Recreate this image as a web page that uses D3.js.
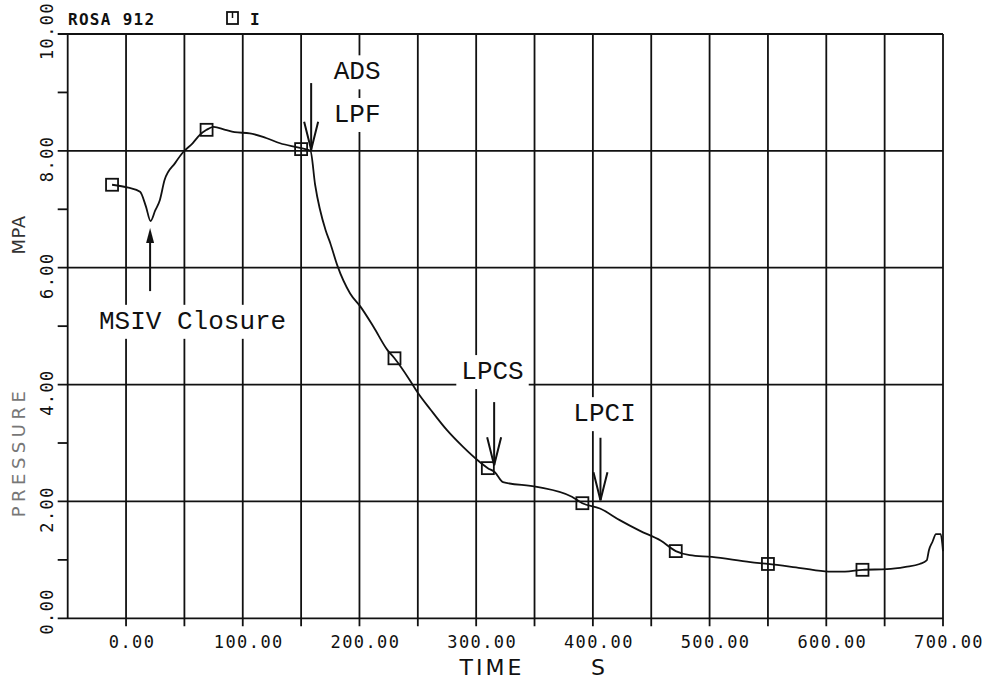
<!DOCTYPE html>
<html>
<head>
<meta charset="utf-8">
<script src="https://cdn.jsdelivr.net/npm/d3@7"></script>
<style>
  body { margin: 0; background: #fff; }
  svg { display: block; }
</style>
</head>
<body>
<svg width="994" height="684"></svg>
<script>
// ROSA run 912 - pressure history
const times = [-12, 2, 12, 17, 21, 25, 29, 33, 42, 49, 57, 63, 69, 75, 85, 93, 106, 120, 132, 149,
  158, 162, 171, 175, 181, 192, 201, 212, 224, 230, 243, 250, 261, 275, 289, 301, 310, 316, 323,
  352, 382, 391, 406, 423, 440, 458, 471, 483, 502, 535, 550, 578, 602, 616, 631, 652, 668, 680,
  686, 688, 691, 694, 698, 700];
const pressures = [7.42, 7.37, 7.30, 7.05, 6.80, 6.98, 7.16, 7.50, 7.79, 7.98, 8.13, 8.27, 8.36, 8.41,
  8.36, 8.32, 8.30, 8.22, 8.13, 8.05, 8.00, 7.42, 6.64, 6.42, 6.04, 5.56, 5.33, 4.99, 4.59, 4.45,
  4.08, 3.86, 3.57, 3.22, 2.93, 2.71, 2.57, 2.50, 2.33, 2.25, 2.08, 1.97, 1.88, 1.68, 1.50, 1.33,
  1.15, 1.08, 1.05, 0.96, 0.93, 0.86, 0.80, 0.80, 0.83, 0.84, 0.88, 0.93, 0.99, 1.17, 1.31, 1.44,
  1.44, 1.15];
const markerTimes = [-12, 69, 150, 230, 310, 391, 471, 550, 631];
const markerPressures = [7.42, 8.36, 8.03, 4.45, 2.57, 1.97, 1.15, 0.93, 0.83];

const xTicks = [0, 100, 200, 300, 400, 500, 600, 700];
const yTicks = [0, 2, 4, 6, 8, 10];

// annotations, in data units (time s, pressure MPa)
const notes = [
  { lines: ['MSIV Closure'], t: 57, p: [5.11], arrowT: 20.6, from: 5.60, to: 6.68, head: 'solid' },
  { lines: ['ADS', 'LPF'], t: 198, p: [9.38, 8.65], arrowT: 158.6, from: 9.16, to: 8.02, head: 'v' },
  { lines: ['LPCS'], t: 314, p: [4.25], arrowT: 315.4, from: 3.70, to: 2.62, head: 'v' },
  { lines: ['LPCI'], t: 410, p: [3.53], arrowT: 406.5, from: 3.09, to: 2.02, head: 'v' }
];

const svg = d3.select('svg');
const x = d3.scaleLinear().domain([-50, 700]).range([67.7, 943]);
const y = d3.scaleLinear().domain([0, 10]).range([618.3, 34]);

const mono = '"DejaVu Sans Mono", monospace';
const ink = '#111';

// grid
const grid = svg.append('g').attr('stroke', ink).attr('stroke-width', 1.8);
grid.selectAll('.vg').data(d3.range(-50, 701, 50)).enter().append('line')
  .attr('x1', d => x(d)).attr('x2', d => x(d))
  .attr('y1', y(10)).attr('y2', d => d === -50 ? y(0) : y(0) + 8);
grid.selectAll('.hg').data(yTicks).enter().append('line')
  .attr('x1', x(-50) - 10).attr('x2', x(700))
  .attr('y1', d => y(d)).attr('y2', d => y(d));
grid.selectAll('.mt').data([1, 3, 5, 7, 9]).enter().append('line')
  .attr('x1', x(-50) - 10).attr('x2', x(-50))
  .attr('y1', d => y(d)).attr('y2', d => y(d));

// tick labels
svg.selectAll('.xl').data(xTicks).enter().append('text')
  .attr('x', d => x(d) + 6).attr('y', 648)
  .attr('text-anchor', 'middle')
  .style('font-family', mono).style('font-size', '17px').style('letter-spacing', '1.4px')
  .attr('fill', ink)
  .text(d => d3.format('.2f')(d));

svg.selectAll('.yl').data(yTicks).enter().append('text')
  .attr('transform', d => {
    const off = d === 0 ? -7 : d === 10 ? -3 : 8;
    return 'translate(53,' + (y(d) + off) + ') rotate(-90)';
  })
  .attr('text-anchor', 'middle')
  .style('font-family', mono).style('font-size', '17px').style('letter-spacing', '1.4px')
  .attr('fill', ink)
  .text(d => d3.format('.2f')(d));

// axis titles
svg.append('text').attr('transform', 'translate(25,452) rotate(-90)')
  .attr('text-anchor', 'middle')
  .style('font-family', '"DejaVu Sans", sans-serif').style('font-size', '18px')
  .style('letter-spacing', '4.5px').attr('fill', '#777')
  .text('PRESSURE');
svg.append('text').attr('transform', 'translate(25,235) rotate(-90)')
  .attr('text-anchor', 'middle')
  .style('font-family', '"DejaVu Sans", sans-serif').style('font-size', '18px')
  .style('letter-spacing', '0.5px').attr('fill', '#333')
  .text('MPA');
svg.append('text').attr('x', 492).attr('y', 675).attr('text-anchor', 'middle')
  .style('font-family', '"DejaVu Sans", sans-serif').style('font-size', '22px')
  .style('letter-spacing', '3px').attr('fill', ink)
  .text('TIME');
svg.append('text').attr('x', 598).attr('y', 675).attr('text-anchor', 'middle')
  .style('font-family', '"DejaVu Sans", sans-serif').style('font-size', '22px')
  .attr('fill', ink)
  .text('S');

// header
svg.append('text').attr('x', 68).attr('y', 25)
  .style('font-family', mono).style('font-size', '16px').style('font-weight', 'bold')
  .style('letter-spacing', '1.3px').attr('fill', ink)
  .text('ROSA 912');
svg.append('rect').attr('x', 227).attr('y', 12).attr('width', 11).attr('height', 12)
  .attr('fill', 'none').attr('stroke', ink).attr('stroke-width', 1.8);
svg.append('line').attr('x1', 232.5).attr('x2', 232.5).attr('y1', 12).attr('y2', 18)
  .attr('stroke', ink).attr('stroke-width', 1.5);
svg.append('text').attr('x', 250).attr('y', 25)
  .style('font-family', mono).style('font-size', '16px').style('font-weight', 'bold')
  .attr('fill', ink).text('I');

// annotation labels with white boxes cutting the grid
const noteG = svg.append('g');
notes.forEach(n => {
  n.lines.forEach((s, i) => {
    const t = noteG.append('text')
      .attr('x', x(n.t)).attr('y', y(n.p[i]))
      .attr('dy', '0.35em').attr('text-anchor', 'middle')
      .style('font-family', '"Liberation Mono", monospace').style('font-size', '26px')
      .attr('fill', ink)
      .text(s);
    const b = t.node().getBBox();
    noteG.insert('rect', 'text')
      .attr('x', b.x - 5).attr('y', b.y - 2)
      .attr('width', b.width + 10).attr('height', b.height + 4)
      .attr('fill', '#fff');
  });
});

// curve
const pts = times.map((t, i) => [t, pressures[i]]);
const line = d3.line().x(d => x(d[0])).y(d => y(d[1])).curve(d3.curveMonotoneX);
svg.append('path').datum(pts).attr('d', line)
  .attr('fill', 'none').attr('stroke', ink).attr('stroke-width', 1.8)
  .attr('stroke-linejoin', 'round');

svg.selectAll('.mk').data(markerTimes).enter().append('rect')
  .attr('x', d => x(d) - 6).attr('y', (d, i) => y(markerPressures[i]) - 6)
  .attr('width', 12).attr('height', 12)
  .attr('fill', 'none').attr('stroke', ink).attr('stroke-width', 1.8);

// arrows
notes.forEach(n => {
  const ax = x(n.arrowT), y0 = y(n.from), y1 = y(n.to);
  const up = y1 < y0;
  const dir = up ? 1 : -1;
  if (n.head === 'solid') {
    svg.append('line').attr('x1', ax).attr('x2', ax).attr('y1', y0).attr('y2', y1 + 12 * dir)
      .attr('stroke', ink).attr('stroke-width', 2);
    svg.append('path')
      .attr('d', 'M' + ax + ',' + y1 + 'L' + (ax - 4) + ',' + (y1 + 15 * dir) +
        'L' + (ax + 4) + ',' + (y1 + 15 * dir) + 'Z')
      .attr('fill', ink);
  } else {
    svg.append('line').attr('x1', ax).attr('x2', ax).attr('y1', y0).attr('y2', y1)
      .attr('stroke', ink).attr('stroke-width', 2);
    svg.append('path')
      .attr('d', 'M' + (ax - 7) + ',' + (y1 + 28 * dir) + 'L' + ax + ',' + y1 +
        'L' + (ax + 7) + ',' + (y1 + 28 * dir))
      .attr('fill', 'none').attr('stroke', ink).attr('stroke-width', 2);
  }
});
</script>
</body>
</html>
